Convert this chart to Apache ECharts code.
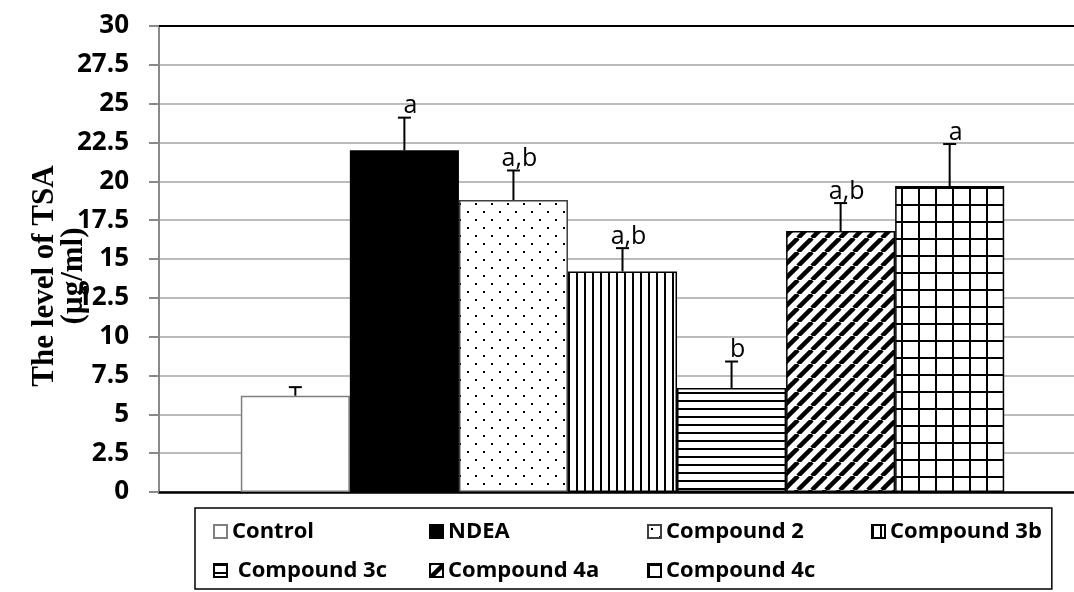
<!DOCTYPE html>
<html>
<head>
<meta charset="utf-8">
<script src="https://cdn.jsdelivr.net/npm/echarts@6/dist/echarts.min.js"></script>
<style>
html,body{margin:0;padding:0;background:#fff;}
#chart{width:1074px;height:592px;}
</style>
</head>
<body>
<div id="chart"></div>
<script>
// ---- data ----
const categories = ['TSA'];
const groupNames = ['Control', 'NDEA', 'Compound 2', 'Compound 3b', 'Compound 3c', 'Compound 4a', 'Compound 4c'];
const meanValues = [6.2, 22.0, 18.8, 14.2, 6.7, 16.8, 19.7];
const errorValues = [0.55, 2.1, 1.9, 1.5, 1.7, 1.8, 2.7];
const sigLabels = ['', 'a', 'a,b', 'a,b', 'b', 'a,b', 'a'];
const yTickLabels = ['0', '2.5', '5', '7.5', '10', '12.5', '15', '17.5', '20', '22.5', '25', '27.5', '30'];
const yAxisTitle = 'The level of TSA\n(µg/ml)';

// ---- patterns ----
function tile(w, h, draw) {
  const c = document.createElement('canvas');
  c.width = w; c.height = h;
  const ctx = c.getContext('2d');
  ctx.fillStyle = '#fff';
  ctx.fillRect(0, 0, w, h);
  ctx.fillStyle = '#000';
  ctx.strokeStyle = '#000';
  draw(ctx, w, h);
  return { image: c, repeat: 'repeat' };
}
const fills = [
  '#ffffff',
  '#000000',
  tile(16, 16, ctx => { ctx.fillRect(3, 3, 2, 2); ctx.fillRect(11, 11, 2, 2); }),
  tile(8, 8, ctx => { ctx.fillRect(0, 0, 2, 8); }),
  tile(8, 8, ctx => { ctx.fillRect(0, 0, 8, 2); }),
  tile(14, 14, (ctx, w, h) => {
    ctx.lineWidth = 4.5;
    [[-w, 0], [0, 0], [w, 0]].forEach(([dx]) => {
      ctx.beginPath(); ctx.moveTo(dx, h); ctx.lineTo(dx + w, 0); ctx.stroke();
    });
  }),
  tile(17, 17, ctx => { ctx.fillRect(0, 0, 2, 17); ctx.fillRect(0, 0, 17, 2); })
];
const borders = ['#7f7f7f', '#000', '#3f3f3f', '#000', '#000', '#000', '#000'];

const CAT_GAP = 0.1765;

const chart = echarts.init(document.getElementById('chart'), null, { renderer: 'canvas' });

const barSeries = groupNames.map((name, i) => ({
  name: name,
  type: 'bar',
  xAxisIndex: 0,
  yAxisIndex: 0,
  barGap: '0%',
  barCategoryGap: (CAT_GAP * 100) + '%',
  data: [meanValues[i]],
  itemStyle: { color: fills[i], borderColor: borders[i], borderWidth: 1.5 },
  emphasis: { disabled: true },
  z: 2
}));

const errSeries = {
  type: 'custom',
  name: 'error',
  xAxisIndex: 0,
  yAxisIndex: 0,
  z: 5,
  silent: true,
  encode: { x: 0, y: 2 },
  data: meanValues.map((v, i) => [0, i, v, errorValues[i]]),
  renderItem: function (params, api) {
    const i = api.value(1);
    const v = api.value(2);
    const e = api.value(3);
    const band = api.size([1, 0])[0];
    const bw = band * (1 - CAT_GAP) / groupNames.length;
    const base = api.coord([0, v]);
    const x = base[0] + (i - (groupNames.length - 1) / 2) * bw;
    const yTop = api.coord([0, v + e])[1];
    const children = [
      { type: 'line', shape: { x1: x, y1: base[1], x2: x, y2: yTop }, style: { stroke: '#000', lineWidth: 2 } },
      { type: 'line', shape: { x1: x - 6.5, y1: yTop, x2: x + 6.5, y2: yTop }, style: { stroke: '#000', lineWidth: 2 } }
    ];
    if (sigLabels[i]) {
      children.push({
        type: 'text',
        x: x + 6,
        y: yTop + 1,
        style: {
          text: sigLabels[i],
          font: '25px "Open Sans"',
          fill: '#000',
          textAlign: 'center',
          textVerticalAlign: 'bottom'
        }
      });
    }
    return { type: 'group', children: children };
  }
};

const legendWidths = [191, 193, 199, null, 191, 193, null];
const legendText = { fontFamily: 'Open Sans', fontWeight: 'bold', fontSize: 22, color: '#000', lineHeight: 33 };

const option = {
  animation: false,
  backgroundColor: '#fff',
  grid: { left: 159, top: 26, right: -12, bottom: 100, containLabel: false, outerBoundsMode: 'none' },
  xAxis: [
    {
      type: 'category', data: categories, position: 'bottom',
      axisLine: { show: true, lineStyle: { color: '#000', width: 2.5 } },
      axisTick: { show: false }, axisLabel: { show: false }, splitLine: { show: false }
    },
    {
      type: 'category', data: categories, position: 'top',
      axisLine: { show: true, lineStyle: { color: '#000', width: 2 } },
      axisTick: { show: false }, axisLabel: { show: false }, splitLine: { show: false }
    }
  ],
  yAxis: {
    type: 'value', min: 0, max: 30, interval: 2.5,
    axisLine: { show: true, lineStyle: { color: '#898989', width: 2 } },
    axisTick: { show: true, inside: false, length: 10, lineStyle: { color: '#898989', width: 2 } },
    axisLabel: {
      margin: 30,
      color: '#000',
      fontFamily: 'Open Sans',
      fontWeight: 'bold',
      fontSize: 26,
      formatter: function (val) {
        const idx = Math.round(val / 2.5);
        return yTickLabels[idx] !== undefined ? yTickLabels[idx] : '';
      }
    },
    splitLine: { show: true, lineStyle: { color: '#a6a6a6', width: 1.5 } }
  },
  legend: {
    show: true,
    orient: 'horizontal',
    left: 195,
    top: 508,
    width: 860,
    padding: [7, 10, 2, 18],
    itemGap: 6,
    itemWidth: 13,
    itemHeight: 13,
    icon: 'rect',
    borderColor: '#000',
    borderWidth: 1.5,
    selectedMode: false,
    formatter: function (name) { return name === 'Compound 3c' ? ' ' + name : name; },
    textStyle: legendText,
    data: groupNames.map((n, i) => legendWidths[i]
      ? { name: n, textStyle: Object.assign({ width: legendWidths[i] }, legendText) }
      : { name: n })
  },
  graphic: [
    {
      type: 'text',
      x: 59,
      y: 276,
      rotation: Math.PI / 2,
      style: {
        text: yAxisTitle,
        font: 'bold 31px "Liberation Serif"',
        fill: '#000',
        textAlign: 'center',
        textVerticalAlign: 'middle',
        lineHeight: 29
      },
      z: 10
    }
  ],
  series: barSeries.concat([errSeries])
};

chart.setOption(option);
</script>
</body>
</html>
